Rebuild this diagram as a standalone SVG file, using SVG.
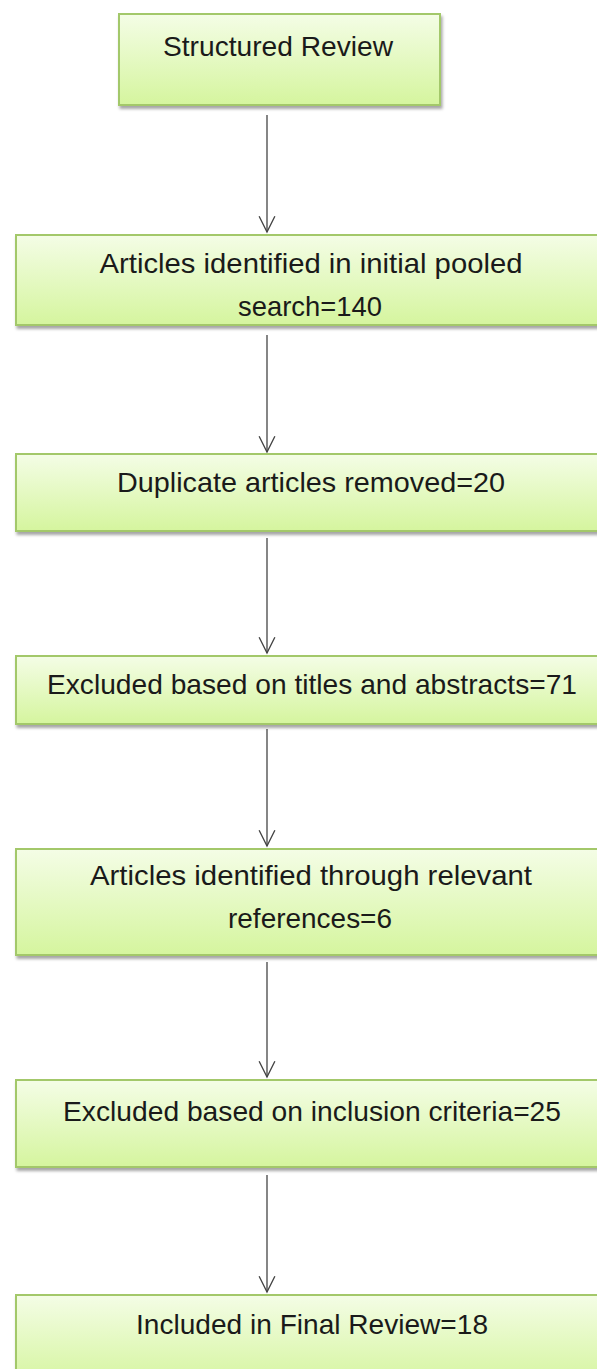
<svg xmlns="http://www.w3.org/2000/svg" width="597" height="1369" viewBox="0 0 597 1369">
<defs>
<linearGradient id="g" x1="0" y1="0" x2="0" y2="1">
<stop offset="0" stop-color="#f4fde6"/>
<stop offset="1" stop-color="#d5f59e"/>
</linearGradient>
<filter id="sh" x="-5%" y="-10%" width="115%" height="130%">
<feDropShadow dx="1.5" dy="3" stdDeviation="1.5" flood-color="#000" flood-opacity="0.35"/>
</filter>
<marker id="ah" markerWidth="18" markerHeight="18" refX="15" refY="8" orient="auto" markerUnits="userSpaceOnUse" viewBox="0 0 16 16" overflow="visible">
<path d="M1,1 L15,8 L1,15" fill="none" stroke="#444" stroke-width="1.2"/>
</marker>
</defs>
<style>
rect.box{fill:url(#g);stroke:#a3c86a;stroke-width:2;filter:url(#sh)}
text{font-family:"Liberation Sans",Arial,sans-serif;font-size:28px;fill:#1a1a1a;text-anchor:middle}
.conn line{stroke:#444;stroke-width:1.3;marker-end:url(#ah)}
</style>
<rect width="597" height="1369" fill="#fff"/>
<g class="conn">
<line x1="267" y1="115" x2="267" y2="232"/>
<line x1="267" y1="335" x2="267" y2="452"/>
<line x1="267" y1="538" x2="267" y2="653"/>
<line x1="267" y1="729" x2="267" y2="846"/>
<line x1="267" y1="962" x2="267" y2="1077"/>
<line x1="267" y1="1175" x2="267" y2="1292"/>
</g>
<g id="n1"><rect class="box" x="119" y="14" width="321" height="91"/><text x="278" y="56" textLength="230" lengthAdjust="spacingAndGlyphs">Structured Review</text></g>
<g id="n2"><rect class="box" x="16" y="235" width="592" height="90"/><text x="311" y="273" textLength="423" lengthAdjust="spacingAndGlyphs">Articles identified in initial pooled</text><text x="310" y="316" textLength="144" lengthAdjust="spacingAndGlyphs">search=140</text></g>
<g id="n3"><rect class="box" x="16" y="454" width="592" height="77"/><text x="311" y="492" textLength="388" lengthAdjust="spacingAndGlyphs">Duplicate articles removed=20</text></g>
<g id="n4"><rect class="box" x="16" y="656" width="592" height="68"/><text x="312" y="694" textLength="530" lengthAdjust="spacingAndGlyphs">Excluded based on titles and abstracts=71</text></g>
<g id="n5"><rect class="box" x="16" y="849" width="592" height="106"/><text x="311" y="885" textLength="442" lengthAdjust="spacingAndGlyphs">Articles identified through relevant</text><text x="310" y="928" textLength="164" lengthAdjust="spacingAndGlyphs">references=6</text></g>
<g id="n6"><rect class="box" x="16" y="1080" width="592" height="87"/><text x="312" y="1121" textLength="498" lengthAdjust="spacingAndGlyphs">Excluded based on inclusion criteria=25</text></g>
<g id="n7"><rect class="box" x="16" y="1295" width="592" height="90"/><text x="312" y="1334" textLength="352" lengthAdjust="spacingAndGlyphs">Included in Final Review=18</text></g>
</svg>
